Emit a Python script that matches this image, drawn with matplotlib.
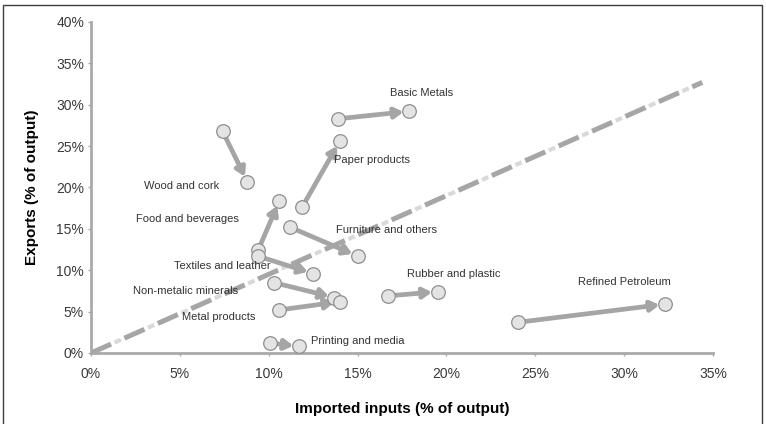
import matplotlib
matplotlib.use("Agg")
import matplotlib.pyplot as plt
from matplotlib.patches import Rectangle
from matplotlib.ticker import FuncFormatter

plt.rcParams['font.family'] = ['Liberation Sans', 'DejaVu Sans']
plt.rcParams['lines.scale_dashes'] = False

# --- data --------------------------------------------------------------------
sectors = ["Wood and cork", "Basic Metals", "Paper products", "Food and beverages",
           "Textiles and leather", "Furniture and others", "Non-metalic minerals",
           "Metal products", "Printing and media", "Rubber and plastic",
           "Refined Petroleum"]
imports_start = [7.4, 13.9, 11.9, 9.4, 9.4, 11.2, 10.3, 10.6, 10.1, 16.7, 24.0]
exports_start = [26.8, 28.3, 17.7, 12.4, 11.7, 15.2, 8.5, 5.2, 1.2, 6.9, 3.7]
imports_end = [8.8, 17.9, 14.0, 10.6, 12.5, 15.0, 13.7, 14.0, 11.7, 19.5, 32.3]
exports_end = [20.7, 29.2, 25.6, 18.4, 9.6, 11.7, 6.7, 6.2, 0.8, 7.4, 5.9]

# label anchor (data coords) and horizontal alignment
label_x = [5.1, 18.6, 13.7, 5.4, 7.4, 13.8, 5.3, 7.2, 12.4, 20.4, 30.0]
label_y = [20.2, 31.4, 23.3, 16.2, 10.5, 14.9, 7.5, 4.4, 1.4, 9.6, 8.6]
label_ha = ["center", "center", "left", "center", "center", "left", "center",
            "center", "left", "center", "center"]

diag_x = [0, 34.4]
diag_y = [0, 32.7]

xticks = [0, 5, 10, 15, 20, 25, 30, 35]
yticks = [0, 5, 10, 15, 20, 25, 30, 35, 40]

# --- plot --------------------------------------------------------------------
fig = plt.figure(figsize=(7.66, 4.24), dpi=100)
ax = fig.add_axes([0.1188, 0.1675, 0.812, 0.7807])
ax.set_xlim(0, 35)
ax.set_ylim(0, 40)

axis_grey = "#a9a9a9"
for side in ["top", "right"]:
    ax.spines[side].set_visible(False)
for side in ["left", "bottom"]:
    ax.spines[side].set_color(axis_grey)
    ax.spines[side].set_linewidth(2.0)

ax.set_xticks(xticks)
ax.set_yticks(yticks)
pct = FuncFormatter(lambda v, p: "%d%%" % v)
ax.xaxis.set_major_formatter(pct)
ax.yaxis.set_major_formatter(pct)
ax.tick_params(axis="both", colors=axis_grey, length=2, width=1,
               labelsize=10, labelcolor="#3a3a3a")
ax.tick_params(axis="x", pad=8)
ax.tick_params(axis="y", pad=3)

ax.set_xlabel("Imported inputs (% of output)", fontsize=11, fontweight="bold",
              labelpad=15)
ax.set_ylabel("Exports (% of output)", fontsize=11, fontweight="bold",
              labelpad=12)

# diagonal reference line: dark dashes with pale dashes in the gaps
ax.plot(diag_x, diag_y, color="#d9d9d9", lw=3.0, linestyle=(7.75, (5, 21.3)),
        solid_capstyle="butt", zorder=1)
ax.plot(diag_x, diag_y, color="#a6a6a6", lw=3.6, linestyle=(0, (15.8, 10.5)),
        solid_capstyle="butt", zorder=1)

# arrows from start to end
for x0, y0, x1, y1 in zip(imports_start, exports_start, imports_end, exports_end):
    ax.annotate("", xy=(x1, y1), xytext=(x0, y0),
                arrowprops=dict(arrowstyle="-|>,head_length=0.5,head_width=0.3",
                                color="#a5a5a5", lw=3.4,
                                shrinkA=0, shrinkB=4.0),
                zorder=2)

ax.plot(imports_start, exports_start, "o", ms=9.8, mfc="#e4e4e4", mec="#8f8f8f",
        mew=0.9, zorder=3, clip_on=False)
ax.plot(imports_end, exports_end, "o", ms=9.8, mfc="#e4e4e4", mec="#8f8f8f",
        mew=0.9, zorder=3, clip_on=False)

for name, lx, ly, ha in zip(sectors, label_x, label_y, label_ha):
    ax.text(lx, ly, name, fontsize=8, color="#333333", ha=ha, va="center",
            zorder=4)

# outer frame
fig.patches.append(Rectangle((0.004, -0.01), 0.9905, 0.999, transform=fig.transFigure,
                             fill=False, edgecolor="#3c3c3c", lw=1.0))

fig.savefig("out.png", dpi=100)
